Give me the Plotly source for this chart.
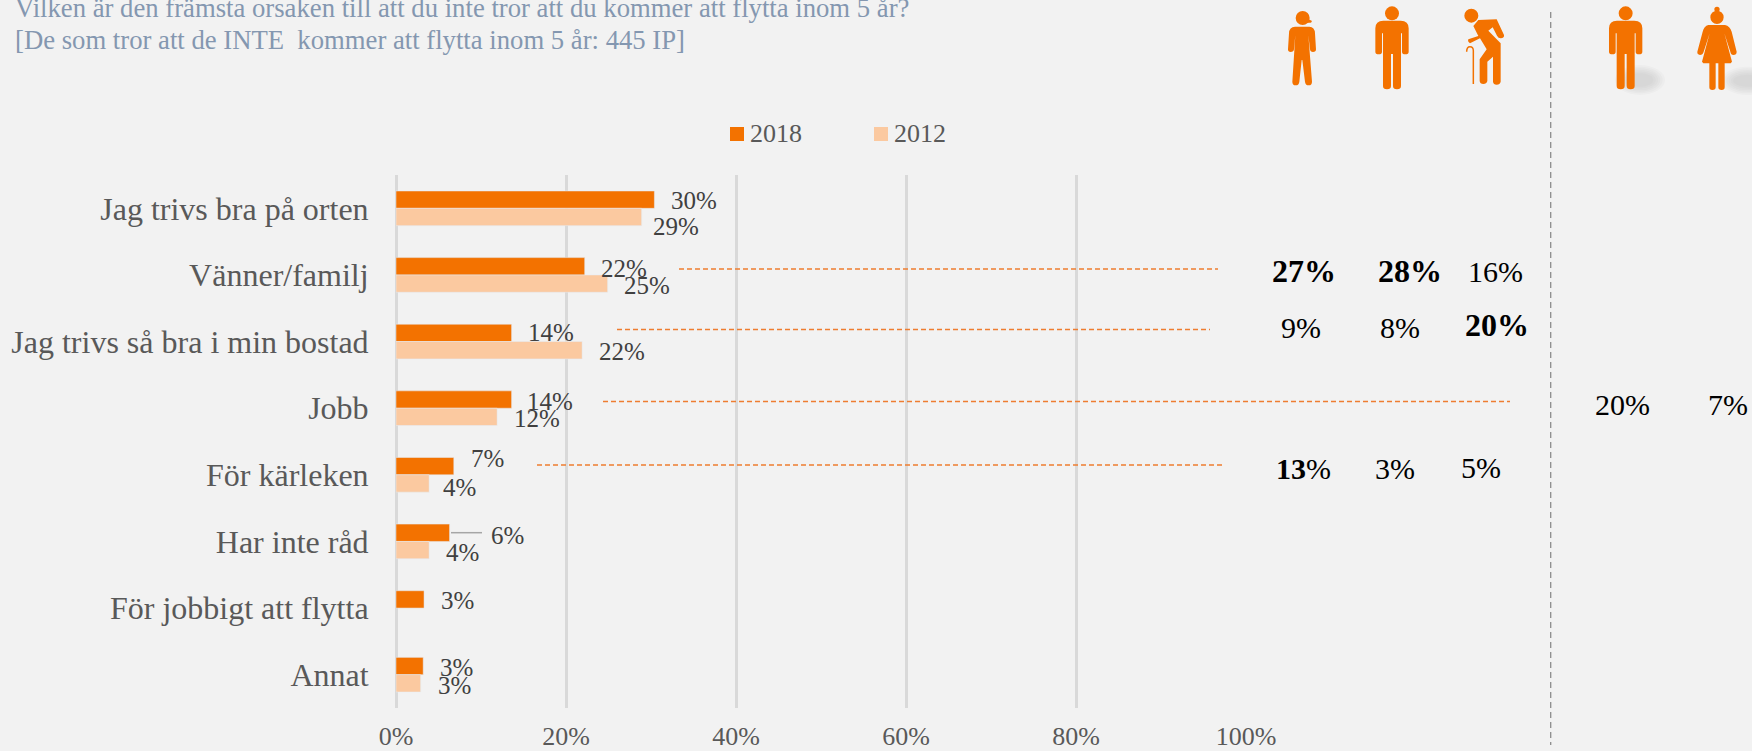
import re
import plotly.graph_objects as go

# ---------- data ----------
categories = ["Jag trivs bra på orten", "Vänner/familj", "Jag trivs så bra i min bostad", "Jobb",
              "För kärleken", "Har inte råd", "För jobbigt att flytta", "Annat"]
values_2018 = [30.4, 22.2, 13.6, 13.6, 6.8, 6.3, 3.3, 3.2]
values_2012 = [28.9, 24.9, 21.9, 11.9, 3.9, 3.9, None, 2.9]
labels_2018 = ["30%", "22%", "14%", "14%", "7%", "6%", "3%", "3%"]
labels_2012 = ["29%", "25%", "22%", "12%", "4%", "4%", "", "3%"]
tick_values = [0, 20, 40, 60, 80, 100]
tick_labels = ["0%", "20%", "40%", "60%", "80%", "100%"]
title_lines = ["Vilken är den främsta orsaken till att du inte tror att du kommer att flytta inom 5 år?",
               "[De som tror att de INTE  kommer att flytta inom 5 år: 445 IP]"]
side_texts = ["<b>27%</b>", "<b>28%</b>", "16%", "9%", "8%", "<b>20%</b>", "20%", "7%", "<b>13</b>%", "3%", "5%"]

# ---------- layout (pixels) ----------
W, H = 1752, 751
L, R, T, B = 396, 1246, 175, 708
ORANGE, PEACH = "#F37200", "#FBC9A0"
SERIF = "Liberation Serif"


def px(x):
    return (x - L) / (R - L)


def py(y):
    return (B - y) / (B - T)


# centre positions of the value labels, pixels
pos_2018 = [(694, 201), (624, 268), (551, 333), (550, 401), (487, 459), (507, 535), (457, 601), (456, 667)]
pos_2012 = [(676, 227), (647, 285), (622, 352), (537, 418), (459, 488), (462, 552), None, (454, 685)]
side_pos = [(1304, 271), (1410, 271), (1495, 271), (1301, 327), (1400, 327), (1497, 325), (1622, 404), (1728, 404),
            (1303, 468), (1395, 468), (1481, 467)]
side_sizes = [32, 32, 30, 30, 30, 32, 30, 30, 30, 30, 30]
leaders = [(679, 1218, 269), (617, 1210, 329.5), (603, 1510, 401.5), (537, 1225, 465)]

fig = go.Figure()
fig.add_bar(name="2018", y=categories, x=values_2018, orientation="h", marker_color=ORANGE, hoverinfo="x+y")
fig.add_bar(name="2012", y=categories, x=values_2012, orientation="h", marker_color=PEACH, hoverinfo="x+y")

ann = []
shapes = []


def text(x, y, s, size=25, color="#404040", anchor="center"):
    ann.append(dict(x=px(x), y=py(y), xref="paper", yref="paper", text=s, showarrow=False, xanchor=anchor,
                    yanchor="middle", font=dict(family=SERIF, size=size, color=color)))


# value labels are anchored to the bars through the axes, then nudged
def value_label(cat, v, s, pos, idx):
    cy = T + (B - T) / 8 * (idx + 0.5)
    bx = L + (R - L) * v / 100
    ann.append(dict(x=v, y=cat, xref="x", yref="y", text=s, showarrow=False, xanchor="center", yanchor="middle",
                    xshift=pos[0] - bx, yshift=cy - pos[1], font=dict(family=SERIF, size=25, color="#404040")))


for i, c in enumerate(categories):
    value_label(c, values_2018[i], labels_2018[i], pos_2018[i], i)
    if values_2012[i] is not None:
        value_label(c, values_2012[i], labels_2012[i], pos_2012[i], i)

for s, (x, y), sz in zip(side_texts, side_pos, side_sizes):
    text(x, y, s, size=sz, color="#000000")

for s, (x, y), in zip(title_lines, [(13, 8), (13, 40)]):
    text(x, y, s, size=26.7, color="#8497B0", anchor="left")

# legend
for name, col, x0 in (("2018", ORANGE, 730), ("2012", PEACH, 874)):
    shapes.append(dict(type="rect", xref="paper", yref="paper", x0=px(x0), x1=px(x0 + 14), y0=py(127), y1=py(141),
                       fillcolor=col, line_width=0))
    text(x0 + 18, 133, name, size=26, color="#595959", anchor="left")

# leader lines
for x0, x1, y in leaders:
    shapes.append(dict(type="line", xref="paper", yref="paper", x0=px(x0), x1=px(x1), y0=py(y), y1=py(y),
                       line=dict(color="#EE7D31", width=1.4, dash="5px,3px")))
shapes.append(dict(type="line", xref="paper", yref="paper", x0=px(451), x1=px(482), y0=py(532.7), y1=py(532.7),
                   line=dict(color="#A6A6A6", width=1.5)))
# dashed divider
shapes.append(dict(type="line", xref="paper", yref="paper", x0=px(1550.7), x1=px(1550.7), y0=py(12), y1=py(745),
                   line=dict(color="#8C8C8C", width=1.3, dash="6px,4px")))


# icons, drawn in coordinates relative to the crop at x=1250, scale 3
def zx(X):
    return px(1250 + X / 3)


def zy(Y):
    return py(Y / 3)


def conv(path, dx=0):
    out = []
    nums = []
    for tok in path.split():
        if re.fullmatch(r"[A-Za-z]", tok):
            out.append(tok)
        else:
            nums.append(float(tok))
            if len(nums) == 2:
                out.append(f"{zx(nums[0] + dx):.5f},{zy(nums[1]):.5f}")
                nums = []
    return " ".join(out)


def blob(path, dx=0):
    shapes.append(dict(type="path", xref="paper", yref="paper", path=conv(path, dx), fillcolor=ORANGE, line_width=0))


def head(X, Y, r):
    shapes.append(dict(type="circle", xref="paper", yref="paper", x0=zx(X - r), x1=zx(X + r), y0=zy(Y + r), y1=zy(Y - r),
                       fillcolor=ORANGE, line_width=0))


def shadow(x0, x1, y0, y1):
    for k in range(6):
        g = k * 7
        shapes.append(dict(type="circle", xref="paper", yref="paper", x0=zx(x0 + g), x1=zx(x1 - g), y0=zy(y1 - g * 0.7),
                           y1=zy(y0 + g * 0.7), fillcolor="rgba(120,120,120,0.04)", line_width=0))


shadow(1095, 1245, 195, 285)
shadow(1415, 1570, 200, 285)

MAN = ("M 376 85 Q 376 62 400 62 L 452 62 Q 476 62 476 85 L 476 155 Q 476 163 466 163 Q 456 163 456 155 L 456 100 "
       "L 453 100 L 453 258 Q 453 268 441 268 Q 429 268 429 258 L 429 162 L 423 162 L 423 258 Q 423 268 411 268 "
       "Q 399 268 399 258 L 399 100 L 396 100 L 396 155 Q 396 163 386 163 Q 376 163 376 155 Z")
CHILD = ("M 117 100 Q 118 80 135 80 L 178 80 Q 194 80 195 100 L 198 148 Q 198 156 189 156 Q 181 156 180 148 L 175 105 "
         "L 186 245 Q 186 256 176 256 Q 166 256 165 245 L 157 180 L 155 180 L 148 245 Q 147 256 137 256 "
         "Q 127 256 127 245 L 136 105 L 132 148 Q 131 156 122 156 Q 114 156 114 148 Z")
CAP = "M 160 50 L 185 62 Q 187 68 178 68 L 160 70 Z"
OLD = ("M 670 78 L 685 60 L 740 58 L 762 105 Q 764 114 752 115 Q 745 115 741 107 L 728 82 L 715 92 L 752 130 L 752 245 "
       "Q 750 254 740 254 Q 730 254 729 245 L 729 170 L 712 185 L 712 243 Q 710 252 700 252 Q 690 252 689 243 L 689 178 "
       "L 710 148 L 690 115 L 660 130 Q 652 125 655 118 L 685 108 Z")
CANE = "M 670 252 L 670 152 Q 670 140 660 140 Q 650 140 650 155"
WOMAN = ("M 1375 75 L 1425 75 Q 1440 78 1445 95 L 1460 155 Q 1460 165 1450 165 Q 1443 165 1441 155 L 1423 100 L 1446 185 "
         "L 1442 190 L 1424 190 L 1424 262 Q 1424 270 1415 270 Q 1405 270 1405 262 L 1405 190 L 1397 190 L 1397 262 "
         "Q 1397 270 1387 270 Q 1378 270 1378 262 L 1378 190 L 1360 190 L 1356 185 L 1379 100 L 1361 155 Q 1358 165 1350 165 "
         "Q 1341 163 1342 155 L 1358 95 Q 1362 78 1375 75 Z")

blob(CHILD); blob(CAP); head(158, 54, 21)
blob(MAN); head(426, 40, 21)
blob(OLD); head(664, 47, 21)
shapes.append(dict(type="path", xref="paper", yref="paper", path=conv(CANE), line=dict(color=ORANGE, width=1.5)))
blob(MAN, 701); head(1127, 40, 21)
blob(WOMAN); head(1401, 52, 20); head(1401, 28, 8)

fig.update_layout(
    width=W, height=H, autosize=False, showlegend=False,
    margin=dict(l=L, r=W - R, t=T, b=H - B, pad=0),
    paper_bgcolor="#F2F2F2", plot_bgcolor="#F2F2F2",
    barmode="group", bargap=0.48, bargroupgap=0,
    font=dict(family=SERIF),
    annotations=ann, shapes=shapes,
    xaxis=dict(range=[0, 100], tickvals=tick_values, ticktext=tick_labels, showgrid=True, gridcolor="#D9D9D9",
               gridwidth=2.5, zeroline=True, zerolinecolor="#D9D9D9", zerolinewidth=2.5, showline=False, automargin=False,
               ticks="outside", ticklen=5, tickcolor="rgba(0,0,0,0)", tickfont=dict(family=SERIF, size=26, color="#595959")),
    yaxis=dict(type="category", categoryorder="array", categoryarray=categories, range=[7.5, -0.5], showgrid=False,
               zeroline=False, showline=False, automargin=False, ticks="outside", ticklen=20, tickcolor="rgba(0,0,0,0)",
               tickfont=dict(family=SERIF, size=32, color="#595959")),
)
fig.write_html("out.html", post_script="document.body.style.margin='0';", config=dict(displayModeBar=False))
